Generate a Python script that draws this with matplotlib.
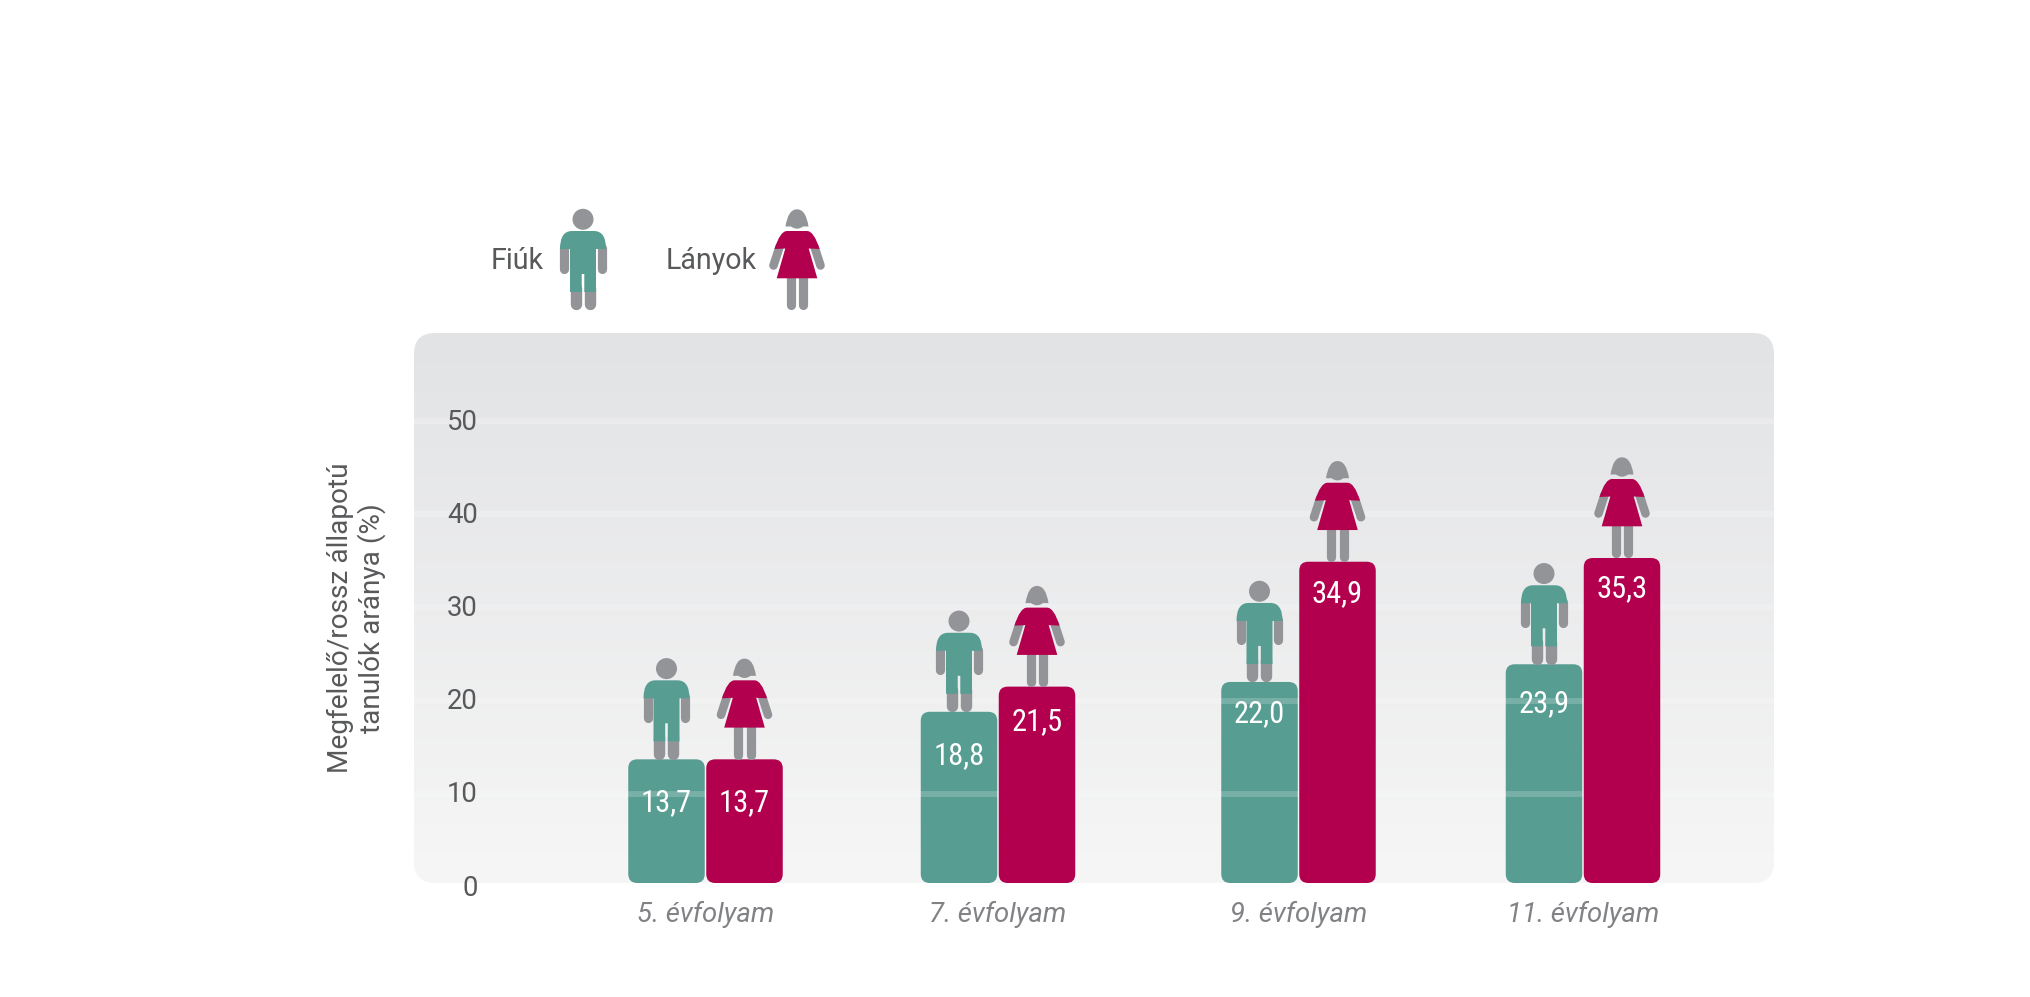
import numpy as np
import matplotlib
matplotlib.use("Agg")
import matplotlib.pyplot as plt
from matplotlib import font_manager as fm
from matplotlib.patches import FancyBboxPatch, PathPatch, Circle
from matplotlib.path import Path
from matplotlib.lines import Line2D
from matplotlib.transforms import Affine2D

# ---- data ----
grades = ["5. évfolyam", "7. évfolyam", "9. évfolyam", "11. évfolyam"]
boys = [13.7, 18.8, 22.0, 23.9]
girls = [13.7, 21.5, 34.9, 35.3]
yticks = [0, 10, 20, 30, 40, 50]
ylabel = "Megfelelő/rossz állapotú\ntanulók aránya (%)"
legend_boys = "Fiúk"
legend_girls = "Lányok"

# ---- layout (pixels) ----
W, H = 2031, 997
PX_L, PX_R, PX_T, PX_B = 414, 1774, 333, 883
Y0_PX = 887
PX_PER_UNIT = 9.32
group_x = [705.5, 998, 1298.5, 1583]
bar_w = 76.5
half_gap = 39
boy_label_drop = [43, 43.5, 31.5, 39]
girl_label_drop = [43, 35, 32, 31]

TEAL = "#579d92"
CRIMSON = "#b3004e"
GRAY = "#939498"
TEXT = "#58595b"
CAT = "#808285"

plt.rcParams["font.family"] = ["Roboto", "DejaVu Sans"]
fig = plt.figure(figsize=(W / 100, H / 100), dpi=100, facecolor="white")
# axes spans down to the zero line; the panel and bars stop just above it
ax = fig.add_axes([PX_L / W, 1 - Y0_PX / H, (PX_R - PX_L) / W, (Y0_PX - PX_T) / H])
ymax = (Y0_PX - PX_T) / PX_PER_UNIT
base = (Y0_PX - PX_B) / PX_PER_UNIT
aspect = 1 / PX_PER_UNIT

# panel
panel = FancyBboxPatch((PX_L, base), PX_R - PX_L, ymax - base,
                       boxstyle="round,pad=0,rounding_size=21", mutation_aspect=aspect,
                       fc="none", ec="none", transform=ax.transData)
ax.add_patch(panel)
c_top = np.array([0xe2, 0xe3, 0xe5]) / 255
c_bot = np.array([0xf6, 0xf6, 0xf6]) / 255
t = np.linspace(0, 1, 256)[:, None, None]
grad = c_top[None, None, :] * (1 - t) + c_bot[None, None, :] * t
im = ax.imshow(grad, extent=(PX_L, PX_R, base, ymax), aspect="auto", zorder=0, origin="upper")
im.set_clip_path(panel)
ax.set_xlim(PX_L, PX_R)
ax.set_ylim(0, ymax)


def bar(xc, v, color, z):
    ax.add_patch(FancyBboxPatch((xc - bar_w / 2, base), bar_w, v - base,
                                boxstyle="round,pad=0,rounding_size=9", mutation_aspect=aspect,
                                fc=color, ec="none", zorder=z))


def pix(x, y):
    return Affine2D().translate(x, y)


def add_lines(tr, pts, width, color, z):
    ax.add_line(Line2D([p[0] for p in pts], [p[1] for p in pts], lw=width * 0.72, color=color,
                       solid_capstyle="round", transform=tr, zorder=z, clip_on=False))


def boy_icon(x, y):
    tr = pix(x, y)
    z = 5
    for sx in (-1, 1):
        add_lines(tr, [(sx * 18.6, 62), (sx * 18.6, 41.5)], 9.2, GRAY, z)
        add_lines(tr, [(sx * 7, 22), (sx * 7, 5.7)], 11.4, GRAY, z)
    ax.add_patch(Circle((0, 90.7), 10.5, fc=GRAY, ec="none", transform=tr, zorder=z, clip_on=False))
    verts = [(-23, 61), (-23, 79), (-11, 79), (11, 79), (23, 79), (23, 61), (13, 61), (13, 18),
             (1.3, 18), (1.3, 36), (-1.3, 36), (-1.3, 18), (-13, 18), (-13, 61), (-23, 61)]
    L, C = Path.LINETO, Path.CURVE3
    codes = [Path.MOVETO, C, C, L, C, C, L, L, L, L, L, L, L, L, Path.CLOSEPOLY]
    ax.add_patch(PathPatch(Path(verts, codes), fc=TEAL, ec="none", transform=tr, zorder=z + 1, clip_on=False))


def girl_icon(x, y):
    tr = pix(x, y)
    z = 5
    for sx in (-1, 1):
        add_lines(tr, [(sx * 17.5, 63), (sx * 23.5, 44.5)], 8.6, GRAY, z)
        add_lines(tr, [(sx * 6.2, 33), (sx * 6.2, 4.6)], 9.2, GRAY, z)
    L, C = Path.LINETO, Path.CURVE3
    hv = [(-11.5, 83.5), (-9, 100.7), (0, 100.7), (9, 100.7), (11.5, 83.5), (6, 83.5), (0, 79), (-6, 83.5), (-11.5, 83.5)]
    hc = [Path.MOVETO, C, C, C, C, L, C, C, Path.CLOSEPOLY]
    ax.add_patch(PathPatch(Path(hv, hc), fc=GRAY, ec="none", transform=tr, zorder=z, clip_on=False))
    dv = [(-22.5, 61), (-17, 79), (-10, 79), (10, 79), (17, 79), (22.5, 61), (11.7, 61.5), (20.3, 31.7),
          (-20.3, 31.7), (-11.7, 61.5), (-22.5, 61)]
    dc = [Path.MOVETO, C, C, L, C, C, L, L, L, L, Path.CLOSEPOLY]
    ax.add_patch(PathPatch(Path(dv, dc), fc=CRIMSON, ec="none", transform=tr, zorder=z + 1, clip_on=False))


# grid / ticks
ax.set_yticks(yticks)
ax.set_xticks(group_x)
ax.set_xticklabels(grades, style="italic", fontsize=19.8, color=CAT)
ax.tick_params(axis="x", length=0, pad=10)
ax.tick_params(axis="y", length=0, pad=-46, labelsize=19.8, labelcolor=TEXT)
ax.yaxis.grid(True, color="white", lw=4.2, alpha=0.2)
ax.xaxis.grid(False)
ax.set_axisbelow(False)
for s in ax.spines.values():
    s.set_visible(False)
ax.patch.set_visible(False)
for lab in ax.get_yticklabels():
    lab.set_transform(lab.get_transform() + Affine2D().translate(0, 2))

fig.canvas.draw()

names = {f.name for f in fm.fontManager.ttflist}
narrow = [n for n in ("Roboto Condensed", "Open Sans Condensed", "Liberation Sans Narrow", "Noto Sans Condensed") if n in names]
VAL_FONT = [narrow[0], "DejaVu Sans"] if narrow else ["Roboto", "DejaVu Sans"]
VAL_SIZE = 22 if narrow else 19

for i in range(len(grades)):
    xb = group_x[i] - half_gap
    xg = group_x[i] + half_gap
    bar(xb, boys[i], TEAL, 2)       # below the grid bands
    bar(xg, girls[i], CRIMSON, 3)   # above the grid bands
    for xc, v, drop, icon in ((xb, boys[i], boy_label_drop[i], boy_icon),
                              (xg, girls[i], girl_label_drop[i], girl_icon)):
        px, py = ax.transData.transform((xc, v))
        icon(px, py)
        ax.text(xc, v - drop / PX_PER_UNIT, f"{v:.1f}".replace(".", ","), color="white",
                family=VAL_FONT, fontsize=VAL_SIZE, ha="center", va="center", zorder=7)

# legend
fig.text(491 / W, 1 - 269 / H, legend_boys, color=TEXT, fontsize=20.6, ha="left", va="baseline")
fig.text(666 / W, 1 - 269 / H, legend_girls, color=TEXT, fontsize=20.6, ha="left", va="baseline")
boy_icon(583, H - 310)
girl_icon(797, H - 310)

# y label
fig.text(356.5 / W, 1 - 618 / H, ylabel, rotation=90, color=TEXT, fontsize=20.2, ha="center",
         va="center", multialignment="center", linespacing=1.15)

fig.savefig("out.png", dpi=100, facecolor="white")
